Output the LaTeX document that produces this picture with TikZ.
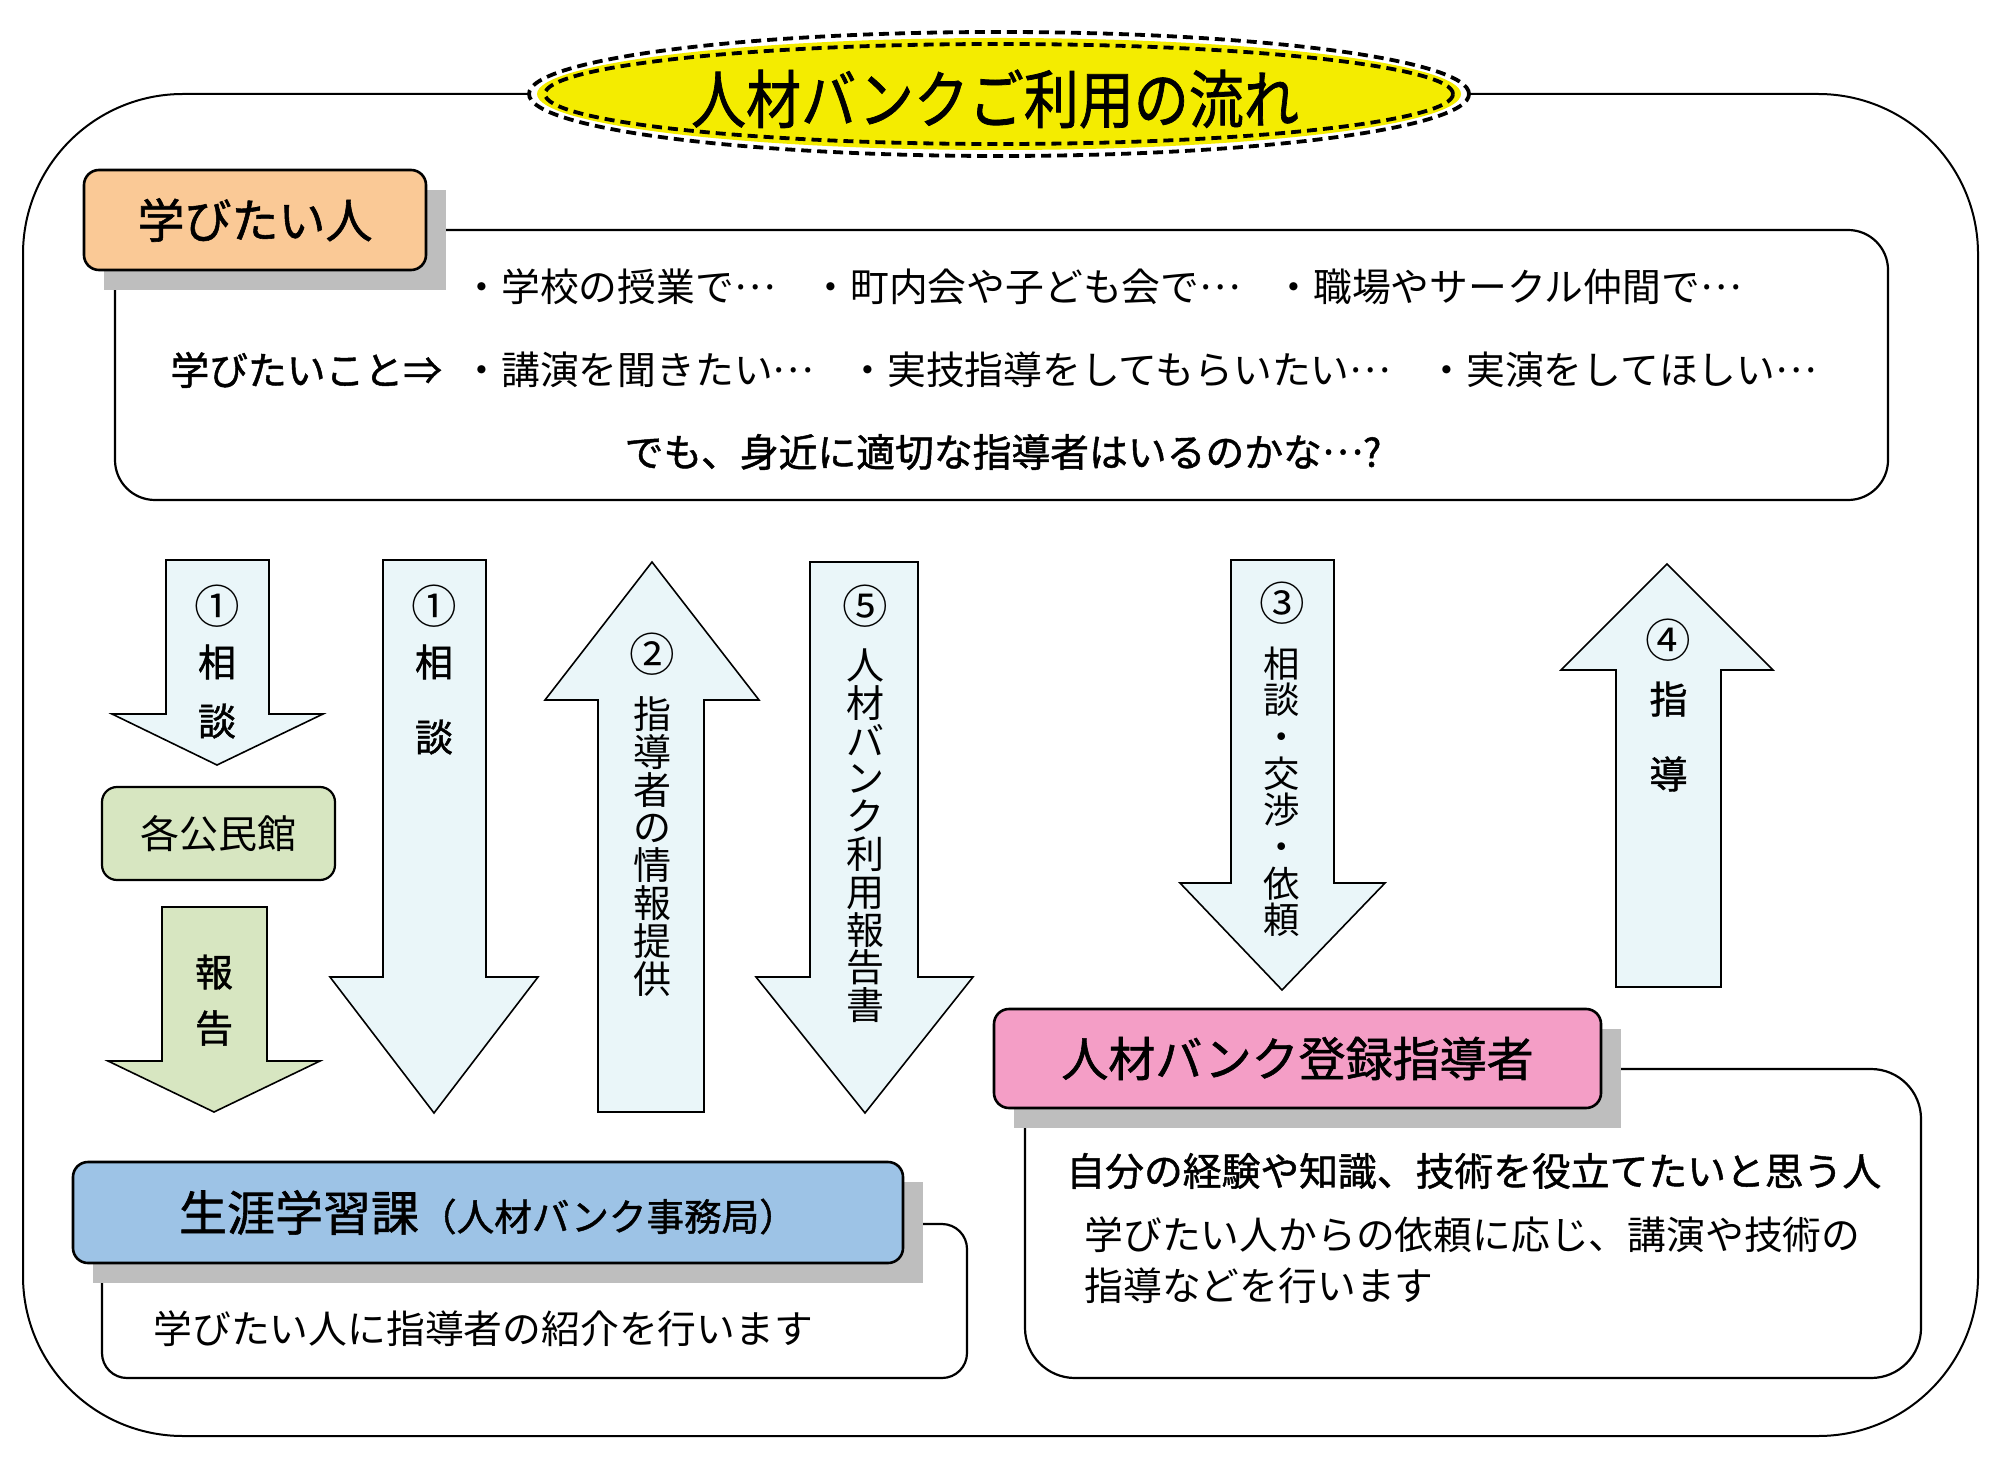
\documentclass[tikz,border=0pt]{standalone}
\usepackage{fontspec}
\setmainfont{Noto Sans CJK JP}
\newfontfamily\medfont{Noto Sans CJK JP}[FakeBold=1.2]
\usetikzlibrary{shapes.geometric}
\definecolor{peach}{RGB}{250,201,150}
\definecolor{lgreen}{RGB}{215,230,193}
\definecolor{lcyan}{RGB}{234,246,249}
\definecolor{lblue}{RGB}{157,195,230}
\definecolor{lpink}{RGB}{244,158,198}
\definecolor{tyellow}{RGB}{244,236,0}
\definecolor{shadowgray}{RGB}{190,190,190}
\newcommand{\jel}{\raisebox{0.32em}{…}}
\newcommand{\cn}[1]{\scalebox{1.2}{#1}}
\tikzset{
  frame/.style={draw=black, line width=1pt},
  infobox/.style={draw=black, line width=1.1pt},
  labelbox/.style={draw=black, line width=1.3pt, rounded corners=7.5pt, inner sep=0pt,
    font=\fontsize{23.5}{28}\selectfont\medfont},
  shade/.style={fill=shadowgray},
  blockarrow/.style={draw=black, line width=0.8pt, fill=lcyan, line join=miter},
  titledash/.style={draw=black, line width=1.9pt, dash pattern=on 5pt off 3pt},
  bodytxt/.style={inner sep=0pt, font=\fontsize{19.4}{23}\selectfont},
  boldtxt/.style={inner sep=0pt, font=\fontsize{19.4}{23}\selectfont\medfont},
  arrtxt/.style={inner sep=0pt, font=\fontsize{19}{19}\selectfont},
  arrtxtb/.style={inner sep=0pt, font=\fontsize{19}{19}\selectfont\medfont},
  vchar/.style={inner sep=0pt, text height=0.8em, text depth=0.05em},
}
\begin{document}
\begin{tikzpicture}[x=0.5pt,y=-0.5pt]
\useasboundingbox (0,0) rectangle (2000,1459);
\fill[white] (0,0) rectangle (2000,1459);

% outer frame
\draw[frame, rounded corners=80pt] (23,94) rectangle (1978,1436);

% title
\fill[white] (999,94) ellipse [x radius=235pt, y radius=31pt];
\fill[tyellow] (999,94) ellipse [x radius=231pt, y radius=28pt];
\draw[titledash] (999,94) ellipse [x radius=235pt, y radius=31pt];
\draw[titledash] (999,94) ellipse [x radius=227pt, y radius=25pt];
\node[inner sep=0pt, font=\fontsize{27.5}{30}\selectfont\medfont] (title) at (995,99)
  {\scalebox{1}[1.15]{人材バンクご利用の流れ}};

% top info box with label
\draw[infobox, rounded corners=20pt] (115,230) rectangle (1888,500);
\fill[shade] (104,190) rectangle (446,290);
\node[labelbox, fill=peach, minimum width=171pt, minimum height=50pt] (learner) at (255,220) {学びたい人};

\node[bodytxt, anchor=west] (r1a) at (462,287) {・学校の授業で\jel};
\node[bodytxt, anchor=west] (r1b) at (811,287) {・町内会や子ども会で\jel};
\node[bodytxt, anchor=west] (r1c) at (1274,287) {・職場やサークル仲間で\jel};
\node[boldtxt, anchor=west] (r2a) at (170,370) {学びたいこと⇒};
\node[bodytxt, anchor=west] (r2b) at (462,370) {・講演を聞きたい\jel};
\node[bodytxt, anchor=west] (r2c) at (848,370) {・実技指導をしてもらいたい\jel};
\node[bodytxt, anchor=west] (r2d) at (1427,370) {・実演をしてほしい\jel};
\node[boldtxt] (r3) at (1003,452) {でも、身近に適切な指導者はいるのかな\jel ?};

% bottom-left: office
\draw[infobox, rounded corners=12.5pt] (102,1224) rectangle (967,1378);
\fill[shade] (93,1182) rectangle (923,1283);
\node[labelbox, fill=lblue, minimum width=415pt, minimum height=50.5pt] (office) at (488,1212.5)
  {{\fontsize{24}{28}\selectfont 生涯学習課}{\fontsize{18.8}{22}\selectfont（人材バンク事務局）}};
\node[bodytxt, anchor=west] (officetxt) at (153,1329) {学びたい人に指導者の紹介を行います};

% bottom-right: registered instructors
\draw[infobox, rounded corners=25pt] (1025,1069) rectangle (1921,1378);
\fill[shade] (1014,1029) rectangle (1621,1128);
\node[labelbox, fill=lpink, minimum width=303.5pt, minimum height=49.5pt] (instr) at (1297.5,1058.5) {人材バンク登録指導者};
\node[boldtxt, anchor=west] (instr1) at (1066,1171) {自分の経験や知識、技術を役立てたいと思う人};
\node[bodytxt, anchor=west] (instr2) at (1084,1235) {学びたい人からの依頼に応じ、講演や技術の};
\node[bodytxt, anchor=west] (instr3) at (1084,1286) {指導などを行います};

% community halls
\node[draw=black, line width=1.1pt, rounded corners=7.5pt, fill=lgreen, inner sep=0pt,
  minimum width=116.5pt, minimum height=46.5pt, font=\fontsize{19.5}{23}\selectfont]
  (hall) at (218.5,833.5) {各公民館\hspace{8pt}};

% arrows
\draw[blockarrow] (166,560) -- (269,560) -- (269,714) -- (323,714) -- (217,765) -- (112,714) -- (166,714) -- cycle;
\draw[blockarrow, fill=lgreen] (162,907) -- (267,907) -- (267,1061) -- (320,1061) -- (214,1112) -- (108,1061) -- (162,1061) -- cycle;
\draw[blockarrow] (383,560) -- (486,560) -- (486,977) -- (538,977) -- (434,1113) -- (330,977) -- (383,977) -- cycle;
\draw[blockarrow] (652,562) -- (759,700) -- (704,700) -- (704,1112) -- (598,1112) -- (598,700) -- (545,700) -- cycle;
\draw[blockarrow] (810,562) -- (918,562) -- (918,977) -- (973,977) -- (865,1113) -- (756,977) -- (810,977) -- cycle;
\draw[blockarrow] (1231,560) -- (1334,560) -- (1334,883) -- (1385,883) -- (1282,990) -- (1180,883) -- (1231,883) -- cycle;
\draw[blockarrow] (1667,564) -- (1773,670) -- (1721,670) -- (1721,987) -- (1616,987) -- (1616,670) -- (1561,670) -- cycle;

% arrow texts
\node[arrtxt] (a1n) at (217,606) {\cn{①}};
\node[arrtxtb] (a1s) at (217,662) {相};
\node[arrtxtb] (a1d) at (217,721) {談};
\node[arrtxtb] (rp1) at (214,972) {報};
\node[arrtxtb] (rp2) at (214,1028) {告};
\node[arrtxt] (b1n) at (434,606) {\cn{①}};
\node[arrtxtb] (b1s) at (434,662) {相};
\node[arrtxtb] (b1d) at (434,737) {談};
\node[arrtxt] (c2n) at (652,654) {\cn{②}};
\foreach \ch [count=\i from 0] in {指,導,者,の,情,報,提,供}
  \node[arrtxt, vchar] (c2-\i) at ({652},{721+37.8*\i}) {\ch};
\node[arrtxt] (d5n) at (865,606) {\cn{⑤}};
\foreach \ch [count=\i from 0] in {人,材,バ,ン,ク,利,用,報,告,書}
  \node[arrtxt, vchar] (d5-\i) at ({865},{672+37.8*\i}) {\ch};
\node[arrtxt] (e3n) at (1282,603) {\cn{③}};
\foreach \ch [count=\i from 0] in {相,談,・,交,渉,・,依,頼}
  \node[arrtxt, vchar, font=\fontsize{18.2}{18.2}\selectfont] (e3-\i) at ({1282},{669.5+36.7*\i}) {\ch};
\node[arrtxt] (f4n) at (1668.5,640) {\cn{④}};
\node[arrtxtb] (f4s) at (1668.5,699) {指};
\node[arrtxtb] (f4d) at (1668.5,774) {導};
\end{tikzpicture}
\end{document}
